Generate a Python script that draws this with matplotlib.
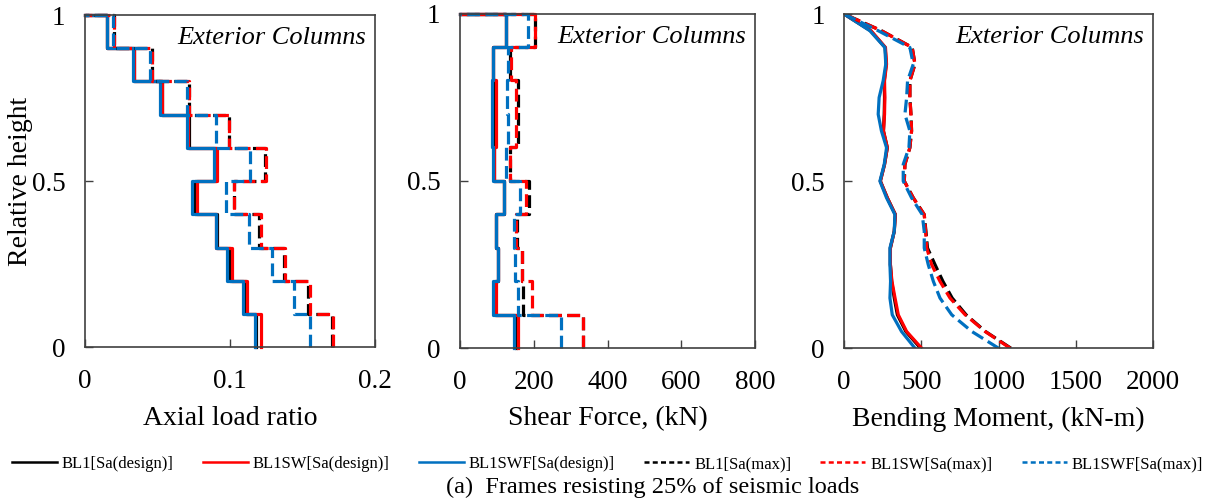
import numpy as np
import matplotlib.pyplot as plt
from matplotlib.lines import Line2D

plt.rcParams['font.family'] = ['Liberation Serif', 'DejaVu Serif']

# story levels (relative height), 10 stories
levels = np.linspace(0, 1, 11)

# axial load ratio per story, bottom -> top
axial_bl1_des = [0.118, 0.111, 0.100, 0.091, 0.076, 0.090, 0.072, 0.053, 0.034, 0.015]
axial_sw_des = [0.121, 0.112, 0.101, 0.090, 0.077, 0.091, 0.071, 0.053, 0.034, 0.015]
axial_swf_des = [0.117, 0.109, 0.098, 0.090, 0.074, 0.089, 0.070, 0.052, 0.033, 0.015]
axial_bl1_max = [0.170, 0.154, 0.137, 0.120, 0.103, 0.124, 0.099, 0.072, 0.046, 0.020]
axial_sw_max = [0.171, 0.155, 0.138, 0.121, 0.103, 0.125, 0.099, 0.072, 0.046, 0.020]
axial_swf_max = [0.155, 0.144, 0.129, 0.113, 0.097, 0.114, 0.090, 0.070, 0.045, 0.019]

# shear force (kN) per story, bottom -> top
shear_bl1_des = [152, 95, 104, 97, 120, 92, 95, 95, 90, 124]
shear_sw_des = [156, 97, 104, 97, 120, 92, 97, 97, 90, 124]
shear_swf_des = [146, 90, 104, 97, 120, 90, 86, 86, 90, 124]
shear_bl1_max = [334, 171, 169, 155, 187, 135, 158, 156, 135, 203]
shear_sw_max = [334, 194, 167, 153, 180, 135, 153, 152, 138, 203]
shear_swf_max = [273, 158, 149, 147, 162, 126, 131, 128, 131, 185]

# bending moment (kN-m) along height, bottom -> top
mom_height = np.linspace(0, 1, 21)
mom_bl1_des = [495, 400, 345, 325, 308, 300, 300, 325, 332, 280, 235, 262, 280, 255, 260, 262, 260, 273, 266, 172, 0]
mom_sw_des = [502, 405, 351, 330, 310, 300, 300, 325, 332, 280, 235, 262, 280, 255, 262, 264, 262, 275, 268, 175, 0]
mom_swf_des = [459, 372, 312, 297, 301, 297, 297, 325, 329, 275, 232, 260, 275, 242, 221, 227, 253, 270, 264, 167, 0]
mom_bl1_max = [1080, 915, 790, 700, 640, 589, 540, 530, 519, 448, 390, 394, 426, 437, 433, 426, 426, 459, 441, 242, 0]
mom_sw_max = [1076, 913, 784, 686, 621, 567, 535, 528, 519, 448, 390, 394, 426, 437, 433, 426, 426, 459, 441, 242, 0]
mom_swf_max = [1000, 827, 697, 621, 578, 545, 519, 519, 506, 437, 383, 383, 420, 426, 394, 405, 411, 448, 426, 221, 0]

names = ["BL1[Sa(design)]", "BL1SW[Sa(design)]", "BL1SWF[Sa(design)]",
         "BL1[Sa(max)]", "BL1SW[Sa(max)]", "BL1SWF[Sa(max)]"]
colors = ["#000000", "#FF0000", "#0070C0"] * 2
styles = ["-"] * 3 + [(0, (4, 1.7))] * 3


def story_path(vals):
    vals = np.asarray(vals, dtype=float)
    xs = np.append(np.repeat(vals, 2), 0.0)
    ys = np.append(np.column_stack([levels[:-1], levels[1:]]).ravel(), 1.0)
    return xs, ys


fig = plt.figure(figsize=(12.15, 5.01), dpi=100)
ax1 = fig.add_axes([0.070, 0.307, 0.2387, 0.663])
ax2 = fig.add_axes([0.3786, 0.305, 0.2428, 0.668])
ax3 = fig.add_axes([0.6947, 0.305, 0.2543, 0.667])

axial = [axial_bl1_des, axial_sw_des, axial_swf_des, axial_bl1_max, axial_sw_max, axial_swf_max]
shear = [shear_bl1_des, shear_sw_des, shear_swf_des, shear_bl1_max, shear_sw_max, shear_swf_max]
moment = [mom_bl1_des, mom_sw_des, mom_swf_des, mom_bl1_max, mom_sw_max, mom_swf_max]

for vals, c, ls in zip(axial, colors, styles):
    xs, ys = story_path(vals)
    ax1.plot(xs, ys, color=c, ls=ls, lw=2.3, clip_on=False)
for vals, c, ls in zip(shear, colors, styles):
    xs, ys = story_path(vals)
    ax2.plot(xs, ys, color=c, ls=ls, lw=2.3, clip_on=False)
for vals, c, ls in zip(moment, colors, styles):
    ax3.plot(vals, mom_height, color=c, ls=ls, lw=2.3)

setup = [
    (ax1, (0, 0.2), [0, 0.1, 0.2], ["0", "0.1", "0.2"], "Axial load ratio"),
    (ax2, (0, 800), [0, 200, 400, 600, 800], ["0", "200", "400", "600", "800"], "Shear Force, (kN)"),
    (ax3, (0, 2000), [0, 500, 1000, 1500, 2000], ["0", "500", "1000", "1500", "2000"], "Bending Moment, (kN-m)"),
]
for ax, xl, xt, xtl, lab in setup:
    ax.set_xlim(*xl)
    ax.set_ylim(0, 1)
    ax.set_xticks(xt)
    ax.set_xticklabels(xtl)
    ax.set_yticks([0, 0.5, 1])
    ax.set_yticklabels(["0", "0.5", "1"])
    ax.tick_params(direction="in", length=6, width=1, colors="#404040",
                   labelcolor="black", labelsize=19.5)
    ax.tick_params(axis="x", pad=16)
    ax.tick_params(axis="y", pad=14)
    for s in ax.spines.values():
        s.set_color("#404040")
        s.set_linewidth(1.2)
    ax.set_xlabel(lab, fontsize=20, labelpad=8)
    ax.text(0.97, 0.93, "Exterior Columns", transform=ax.transAxes, ha="right", va="center",
            fontsize=19, style="italic")

ax1.set_ylabel("Relative height", fontsize=20, labelpad=-1)

handles = [Line2D([], [], color=c, ls=("-" if ls == "-" else (0, (2, 1.3))), lw=1.8)
           for c, ls in zip(colors, styles)]
fig.legend(handles, names, loc="center", bbox_to_anchor=(0.5, 0.074), ncol=6, frameon=False,
           fontsize=12, handlelength=2.7, handletextpad=0.3, columnspacing=1.75)

fig.text(0.537, 0.028, "(a)  Frames resisting 25% of seismic loads", ha="center", va="center",
         fontsize=17.5)

fig.savefig("out.png", dpi=100)
